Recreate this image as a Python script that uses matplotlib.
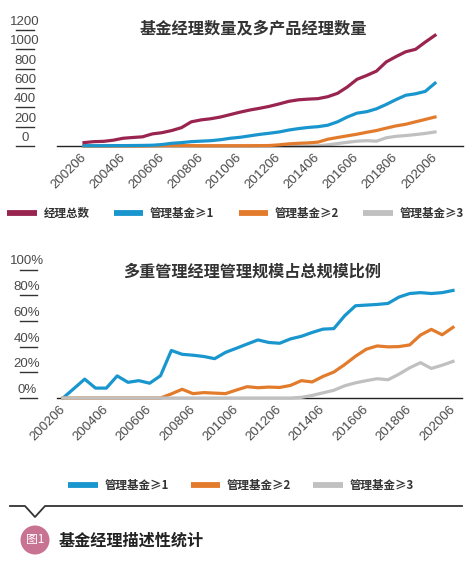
import matplotlib
matplotlib.use("Agg")
import matplotlib.pyplot as plt
from matplotlib.lines import Line2D
from matplotlib.patches import Circle
import numpy as np

plt.rcParams['font.family'] = ['Noto Sans CJK SC', 'DejaVu Sans']

# half-year periods
periods = ['200206', '200212', '200306', '200312', '200406', '200412', '200506', '200512',
           '200606', '200612', '200706', '200712', '200806', '200812', '200906', '200912',
           '201006', '201012', '201106', '201112', '201206', '201212', '201306', '201312',
           '201406', '201412', '201506', '201512', '201606', '201612', '201706', '201712',
           '201806', '201812', '201906', '201912', '202006']

# chart 1: number of managers
total_mgr = [35, 45, 48, 60, 80, 88, 95, 125, 138, 160, 190, 250, 270, 282, 300, 325, 350, 372, 390,
             410, 435, 462, 478, 485, 490, 510, 545, 610, 690, 730, 775, 870, 925, 975, 1000, 1075, 1145]
mgr_ge1 = [3, 3, 3, 4, 4, 5, 6, 8, 15, 28, 35, 45, 50, 55, 65, 80, 90, 105, 120, 132, 145, 165, 180,
           192, 200, 215, 250, 300, 340, 355, 385, 430, 480, 525, 540, 565, 650]
mgr_ge2 = [0, 0, 0, 0, 0, 0, 0, 2, 4, 4, 4, 4, 3, 3, 3, 3, 3, 3, 4, 5, 12, 22, 28, 32, 40, 70, 88,
           105, 122, 142, 160, 185, 208, 225, 250, 275, 300]
mgr_ge3 = [0, 0, 0, 0, 0, 0, 0, 0, 0, 0, 0, 0, 0, 0, 0, 0, 0, 0, 0, 0, 0, 0, 0, 0, 2, 12, 25, 38,
           50, 55, 50, 85, 100, 108, 118, 130, 145]

# chart 2: share of total AUM (%)
share_ge1 = [0, 7.3, 14.7, 7.7, 7.7, 17.2, 12.2, 13.5, 11.5, 17.3, 37, 34, 33.3, 32.3, 30.6, 35.5,
             38.7, 42, 45.2, 43.2, 42.6, 46, 48, 51, 53.6, 54, 64, 71.8, 72.3, 72.8, 73.6, 78.5,
             81.3, 82, 81.3, 82, 83.7]
share_ge2 = [0, 0, 0, 0, 0, 0, 0, 0, 0, 0, 3.2, 6.8, 3.4, 4.2, 3.8, 3.4, 6.2, 8.8, 8, 8.5, 8.2, 9.8,
             13.5, 12.5, 16.8, 20.2, 26, 32.5, 38, 40.5, 39.8, 40, 41.3, 49, 53.4, 49.2, 55]
share_ge3 = [0, 0, 0, 0, 0, 0, 0, 0, 0, 0, 0, 0, 0, 0, 0, 0, 0, 0, 0, 0, 0, 0, 0.5, 2, 4, 6, 9.5,
             11.8, 13.5, 15, 14.2, 18.5, 23.5, 27.5, 23, 25.5, 28.5]

top_ticks = [0, 200, 400, 600, 800, 1000, 1200]
bottom_ticks = [0, 20, 40, 60, 80, 100]
bottom_ticklabels = ['0%', '20%', '40%', '60%', '80%', '100%']

PURPLE = '#9a2450'
BLUE = '#1a96cf'
ORANGE = '#e27c2c'
GRAY = '#c0c0c0'
TXT = '#4a4a4a'

x = np.arange(len(periods))

fig = plt.figure(figsize=(4.73, 5.62), dpi=100)
fig.patch.set_facecolor('white')


def style(ax, yticks, ylabels, lab_x, ul0, ul1):
    for s in ['top', 'right', 'left']:
        ax.spines[s].set_visible(False)
    ax.spines['bottom'].set_color('#222222')
    ax.spines['bottom'].set_linewidth(1.0)
    ax.set_yticks([])
    ax.set_xticks(x[::4])
    ax.set_xticklabels(periods[::4], rotation=45, ha='right', va='center',
                       rotation_mode='anchor', fontfamily='Liberation Sans',
                       fontsize=9.5, color=TXT)
    ax.tick_params(axis='x', length=0, pad=7)
    tr = ax.get_yaxis_transform()
    for v, lab in zip(yticks, ylabels):
        ax.annotate(lab, (lab_x, v), xycoords=tr, xytext=(0, 1.5), textcoords='offset points',
                    ha='center', va='bottom', fontfamily='Liberation Sans', fontsize=9.5,
                    color=TXT, annotation_clip=False)
        ax.plot([ul0, ul1], [v, v], transform=tr, color='#333333', lw=1.0, clip_on=False)


def fix_legend(leg):
    for h in leg.get_lines():
        h.set_linewidth(4.2)
        h.set_solid_capstyle('butt')
    for t in leg.get_texts():
        t.set_color('#333333')


# top chart
ax1 = fig.add_axes([57 / 473, 1 - 146 / 562, 406 / 473, 116 / 562])
l_tot, = ax1.plot(x, total_mgr, color=PURPLE, lw=2.3, zorder=5, clip_on=False)
l_g1, = ax1.plot(x, mgr_ge1, color=BLUE, lw=2.3, zorder=4, clip_on=False)
l_g2, = ax1.plot(x, mgr_ge2, color=ORANGE, lw=2.3, zorder=3, clip_on=False)
l_g3, = ax1.plot(x, mgr_ge3, color=GRAY, lw=2.3, zorder=2, clip_on=False)
ax1.set_xlim(-2.77, 38.87)
ax1.set_ylim(0, 1200)
style(ax1, top_ticks, [str(t) for t in top_ticks], -0.0788, -0.101, -0.0567)
fig.text(253 / 473, 1 - 28 / 562, '基金经理数量及多产品经理数量', ha='center', va='center',
         fontsize=11.7, fontweight='bold', color='#333333')

leg1 = fig.legend([l_tot, l_g1, l_g2, l_g3], ['经理总数', '管理基金≥1', '管理基金≥2', '管理基金≥3'],
                  loc='center', bbox_to_anchor=(0.498, 1 - 214 / 562), ncol=4, frameon=False,
                  handlelength=2.55, handletextpad=0.6, columnspacing=2.1,
                  prop={'size': 8.3, 'weight': 'bold'})
fix_legend(leg1)

# bottom chart
ax2 = fig.add_axes([57 / 473, 1 - 398 / 562, 405 / 473, 128.5 / 562])
m_g1, = ax2.plot(x, share_ge1, color=BLUE, lw=2.3, zorder=3, clip_on=False)
m_g2, = ax2.plot(x, share_ge2, color=ORANGE, lw=2.3, zorder=4, clip_on=False)
m_g3, = ax2.plot(x, share_ge3, color=GRAY, lw=2.3, zorder=5, clip_on=False)
ax2.set_xlim(-0.554, 36.83)
ax2.set_ylim(0, 100)
style(ax2, bottom_ticks, bottom_ticklabels, -0.074, -0.091, -0.049)
fig.text(252 / 473, 1 - 272 / 562, '多重管理经理管理规模占总规模比例', ha='center', va='center',
         fontsize=11.6, fontweight='bold', color='#333333')

leg2 = fig.legend([m_g1, m_g2, m_g3], ['管理基金≥1', '管理基金≥2', '管理基金≥3'],
                  loc='center', bbox_to_anchor=(0.5095, 1 - 486 / 562), ncol=3, frameon=False,
                  handlelength=2.55, handletextpad=0.6, columnspacing=1.9,
                  prop={'size': 8.3, 'weight': 'bold'})
fix_legend(leg2)

# footer: rule with notch, badge and caption
inch = fig.dpi_scale_trans
px = [10, 25, 35, 45, 462]
py = [506, 506, 517, 506, 506]
fig.add_artist(Line2D([p / 100 for p in px], [(562 - p) / 100 for p in py],
                      transform=inch, color='#333333', lw=1.3))
fig.add_artist(Circle((0.35, (562 - 540) / 100), 0.145, transform=inch,
                      facecolor='#c97392', edgecolor='none'))
fig.text(0.35, (562 - 540) / 100, '图1', transform=inch, ha='center', va='center',
         fontsize=8.5, color='white')
fig.text(59 / 473, 1 - 541 / 562, '基金经理描述性统计', ha='left', va='center',
         fontsize=11.6, fontweight='bold', color='#222222')

fig.savefig('out.png', dpi=100, facecolor='white')
